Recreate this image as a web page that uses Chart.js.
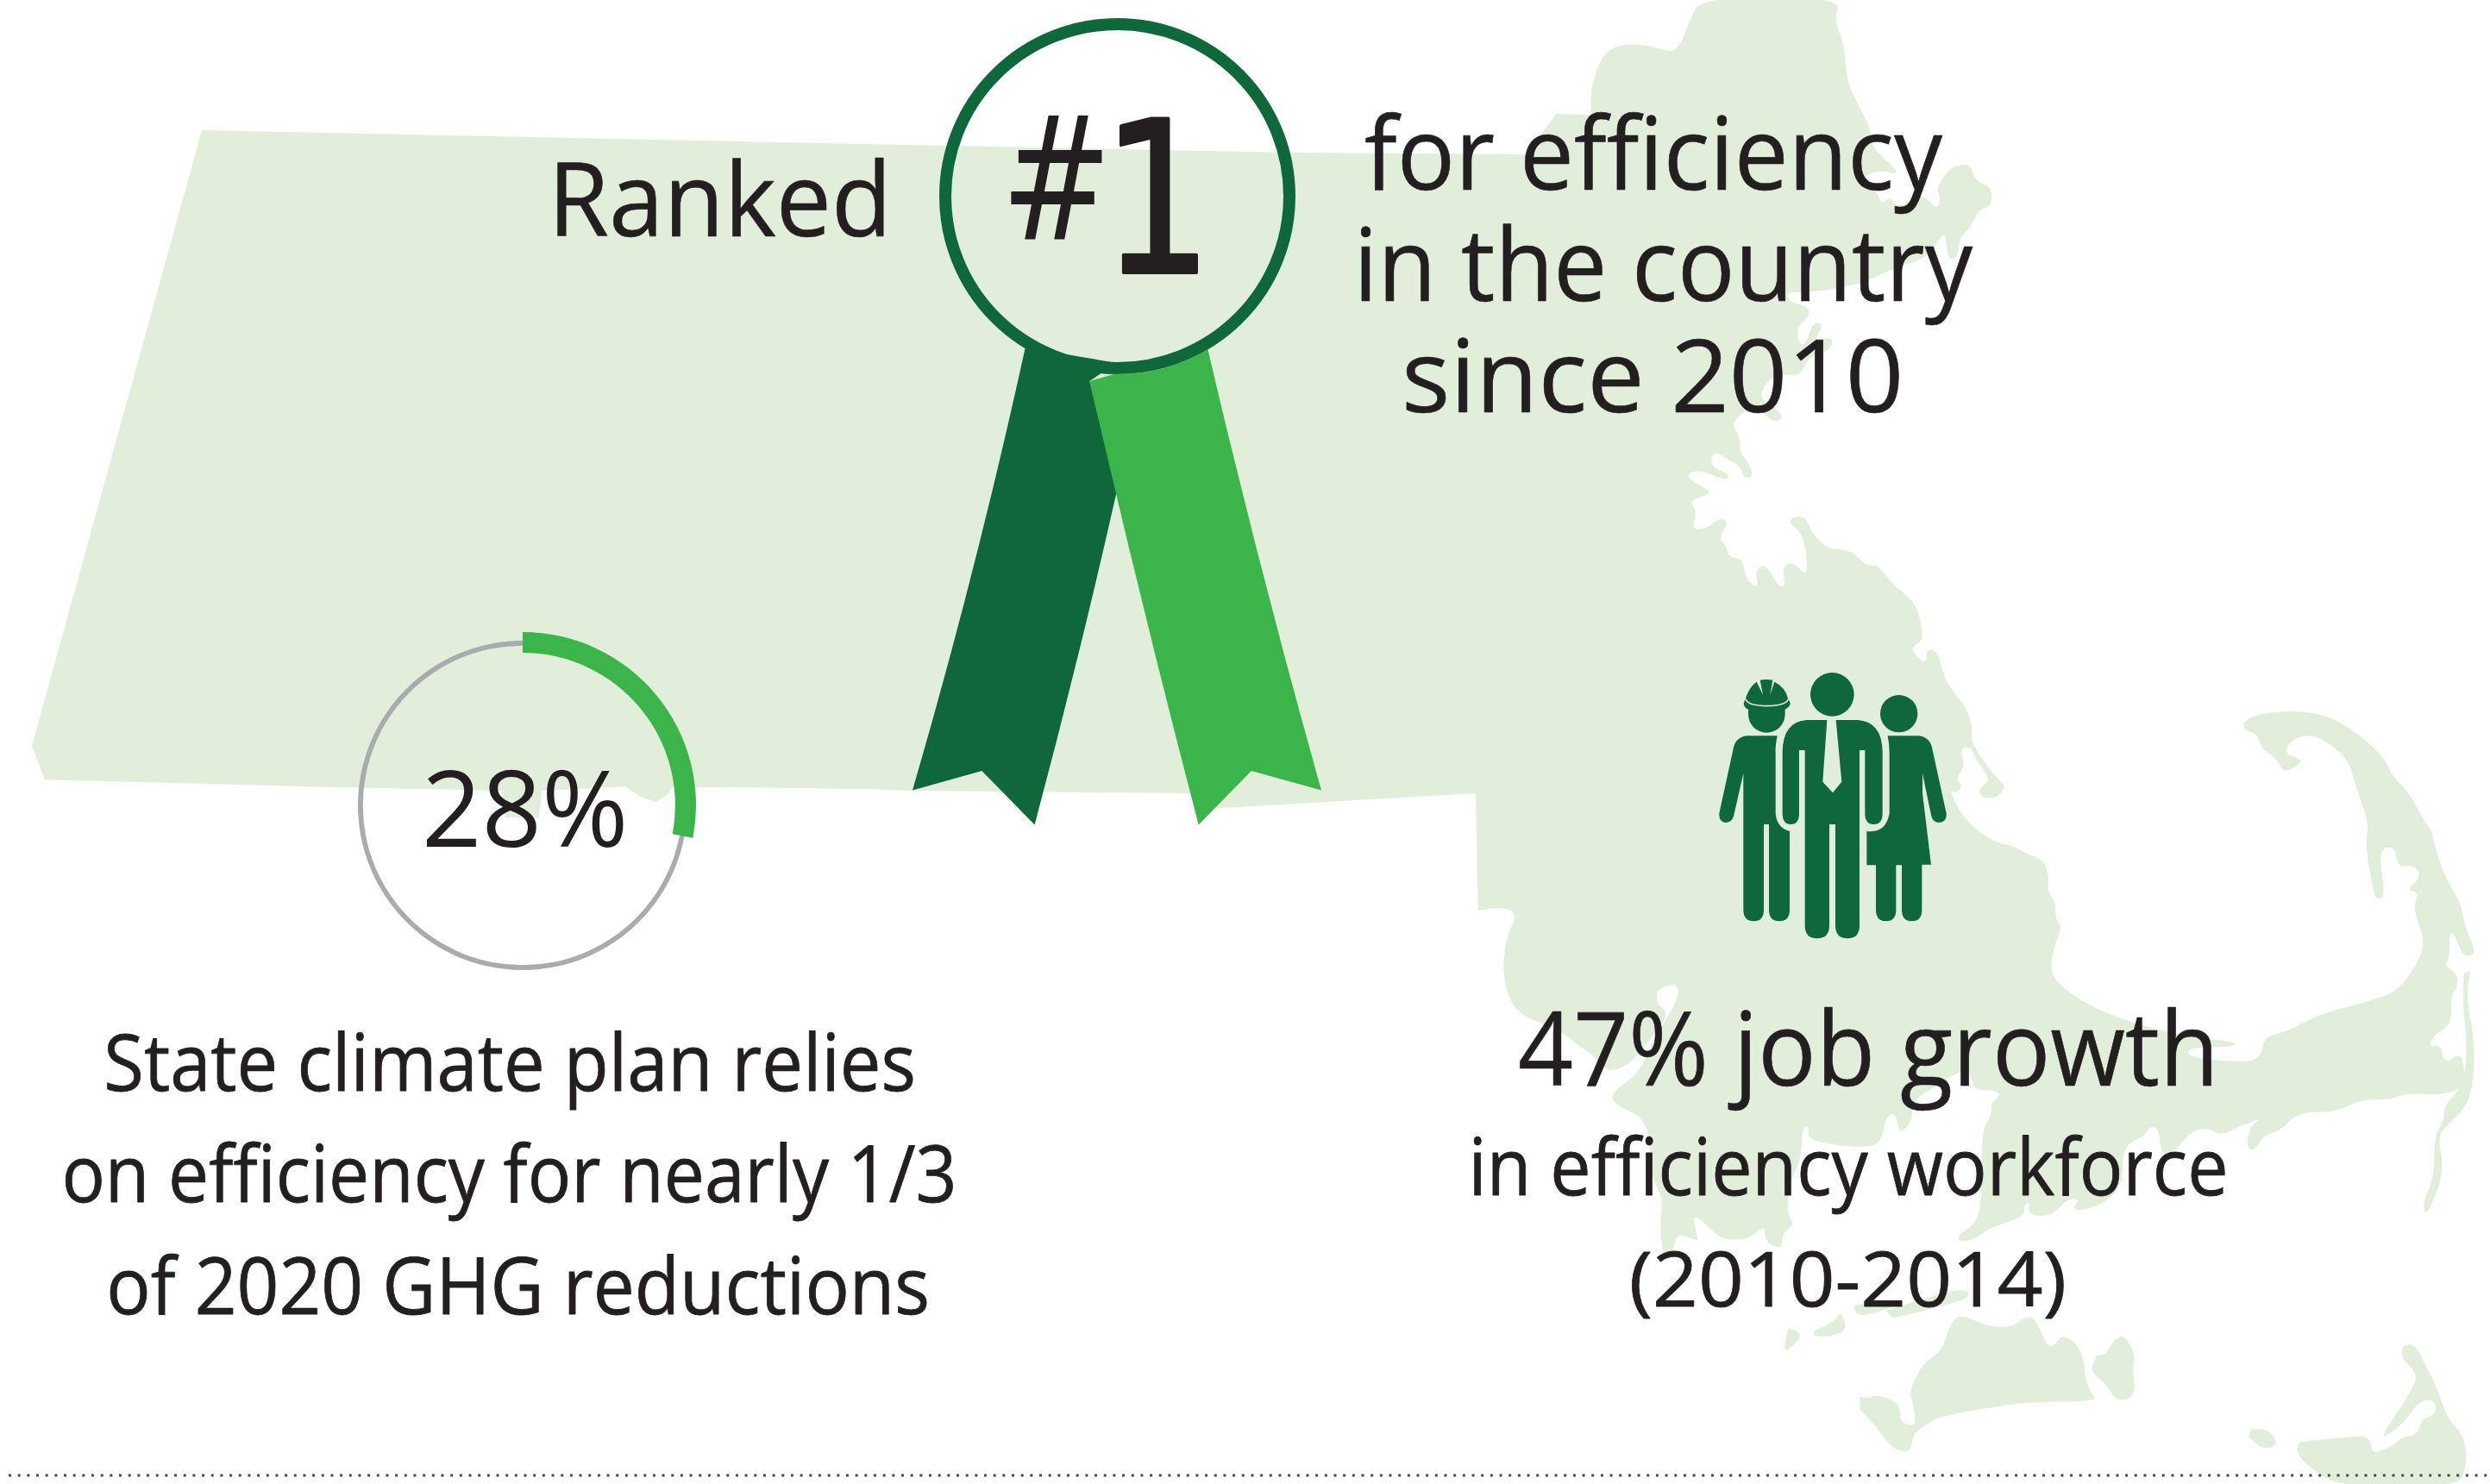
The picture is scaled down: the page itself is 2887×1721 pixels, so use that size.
<!DOCTYPE html>
<html>
<head>
<meta charset="utf-8">
<style>
html,body{margin:0;padding:0;background:#fff;width:2887px;height:1721px;overflow:hidden}
#stage{position:relative;width:2887px;height:1721px;overflow:hidden}
svg,canvas{position:absolute}
</style>
<script src="https://cdn.jsdelivr.net/npm/chart.js@4"></script>
</head>
<body>
<div id="stage">
  <svg id="back" width="2887" height="1721" viewBox="0 0 2887 1721" style="left:0;top:0"></svg>
  <canvas id="track" width="382" height="382" style="left:415px;top:743px;width:382px;height:382px"></canvas>
  <canvas id="share" width="402" height="402" style="left:405px;top:733px;width:402px;height:402px"></canvas>
  <svg id="front" width="2887" height="1721" viewBox="0 0 2887 1721" style="left:0;top:0"></svg>
</div>
<script>
/* ---------- chart data ---------- */
const shareCategories = ["Efficiency", "Other measures"];
const shareValues = [28, 72];
const trackValues = [100];

/* ---------- text ---------- */
const rankedWord = "Ranked";
const rankNumber = "#1";
const rankLines = ["for efficiency", "in the country", "since 2010"];
const shareLabel = "28%";
const planLines = ["State climate plan relies", "on efficiency for nearly 1/3", "of 2020 GHG reductions"];
const jobHeadline = "47% job growth";
const jobLines = ["in efficiency workforce", "(2010-2014)"];

const INK="#231f20", MAP="#e1eed9", DARK="#0e6839", BRIGHT="#3bb54a", GREY="#a9abae";

/* ---------- the doughnut: real Chart.js arcs ---------- */
new Chart(document.getElementById("track"),{type:"doughnut",
  data:{labels:["Total"],datasets:[{data:trackValues,backgroundColor:[GREY],borderWidth:0}]},
  options:{responsive:false,animation:false,cutout:"97%",plugins:{legend:{display:false},tooltip:{enabled:false}}}});
new Chart(document.getElementById("share"),{type:"doughnut",
  data:{labels:shareCategories,datasets:[{data:shareValues,backgroundColor:[BRIGHT,"rgba(0,0,0,0)"],borderWidth:0}]},
  options:{responsive:false,animation:false,cutout:"88%",plugins:{legend:{display:false},tooltip:{enabled:false}}}});

/* ---------- backdrop illustration (map, rosette, people icon) ---------- */
const z1=p=>[1000+p[0]/2.24,p[1]/1.568];
const z4=p=>[1700+p[0]/2.24,p[1]/1.742];
const z5=p=>[1700+p[0]/1.314,800+p[1]/1.702];
const f=n=>n.toFixed(1);
function straight(pts){return pts.map(p=>"L"+f(p[0])+" "+f(p[1])).join("");}
function smooth(pts){
  let d="L"+f(pts[0][0])+" "+f(pts[0][1]);
  for(let i=1;i<pts.length-1;i++){
    const m=[(pts[i][0]+pts[i+1][0])/2,(pts[i][1]+pts[i+1][1])/2];
    d+="Q"+f(pts[i][0])+" "+f(pts[i][1])+" "+f(m[0])+" "+f(m[1]);
  }
  const e=pts[pts.length-1];
  return d+"L"+f(e[0])+" "+f(e[1]);
}
function blob(pts){return "M"+smooth(pts).slice(1)+"Z";}
function P(p){const q=z1(p);return f(q[0])+" "+f(q[1]);}

const coastNorth=[[325,180],[345,115],[400,88],[480,92],[548,110],[580,40],[612,-5],[975,-5],[955,40],[980,85],[985,130],[992,170],[1020,215],[1050,260],[1055,300],[1115,340],[1118,352],[1080,345],[1040,350],[1035,370],[1065,385],[1080,415],[1100,395],[1120,420],[1160,400],[1190,395],[1225,425],[1232,395],[1220,380],[1260,335],[1310,330],[1320,365],[1365,378],[1365,415],[1330,425],[1310,460],[1280,480],[1278,520],[1250,525],[1245,470],[1230,480],[1200,520],[1100,545],[1020,575],[900,590],[830,590],[840,610],[890,620],[890,640],[860,660],[860,690],[880,700],[900,650],[930,655],[900,690],[950,680],[950,700],[925,715],[885,725],[870,760],[800,755],[765,790],[770,810],[815,830],[820,850],[790,850],[760,825],[730,825],[695,850],[695,865],[710,880],[710,915],[735,935],[745,965],[720,965],[710,940],[670,925],[650,912],[635,925],[640,945],[680,955],[680,972],[610,950],[575,955],[580,970],[630,990],[630,1000],[580,1010],[600,1035],[585,1070],[620,1070],[660,1045],[680,1055],[655,1090],[675,1100],[680,1125],[720,1130],[725,1170],[760,1190],[750,1150],[780,1140],[810,1185],[830,1185],[820,1145],[850,1135],[885,1165],[885,1120],[870,1075],[830,1050],[880,1040],[895,1075],[940,1110],[1000,1110],[1040,1145],[1070,1140],[1105,1180],[1165,1215],[1185,1270],[1185,1295],[1150,1310],[1195,1345],[1195,1310],[1225,1315],[1245,1380],[1300,1430],[1315,1470],[1310,1500],[1365,1560]].map(z4);

const coastSouth=[[820,190],[815,212],[785,215],[780,195],[800,178],[775,135],[770,115],[755,112],[755,130],[760,150],[745,175],[757,190],[745,205],[735,195],[760,260],[810,305],[830,305],[855,325],[880,335],[888,370],[885,395],[898,420],[898,455],[908,465],[895,510],[890,550],[900,580],[950,625],[1020,660],[1100,685],[1175,695],[1170,705],[1100,705],[1100,725],[1150,732],[1195,735],[1212,720],[1215,685],[1250,675],[1300,640],[1375,615],[1415,598],[1445,550],[1462,500],[1442,430],[1452,400],[1432,395],[1455,370],[1445,345],[1418,350],[1416,310],[1395,312],[1392,340],[1400,410],[1385,415],[1380,380],[1370,310],[1375,260],[1360,210],[1345,140],[1320,110],[1290,88],[1260,95],[1245,125],[1270,135],[1272,145],[1245,165],[1235,135],[1210,115],[1205,85],[1182,80],[1190,50],[1280,38],[1345,70],[1400,135],[1410,170],[1435,200],[1460,260],[1472,280],[1475,310],[1495,380],[1515,420],[1522,470],[1535,505],[1535,525],[1518,525],[1505,480],[1498,480],[1498,530],[1490,545],[1510,560],[1510,590],[1500,600],[1502,660],[1475,680],[1465,705],[1485,700],[1490,740],[1515,715],[1520,750],[1525,780],[1500,795],[1470,800],[1440,795],[1400,810],[1365,808],[1320,835],[1270,832],[1240,870],[1215,880],[1200,912],[1188,900],[1195,860],[1212,845],[1180,860],[1150,880],[1130,865],[1105,870],[1080,910],[1060,925],[1055,865],[1040,862],[1035,880],[1000,900],[1000,980],[970,1015],[930,1030],[925,1020],[935,1005],[915,1005],[895,1035],[870,1040],[855,1030],[860,1010],[850,1015],[850,1040],[800,1060],[775,1085],[750,1090],[750,1075],[770,1060],[780,1040],[785,1000],[785,870],[800,840],[800,815],[815,800],[805,790],[775,790],[770,770],[765,750],[740,760],[720,780],[680,810],[680,850],[660,878],[655,835],[640,840],[632,895],[600,905],[520,890],[522,860],[512,865],[510,930],[490,980],[490,1040],[500,1055],[480,1075],[482,1105],[455,1090],[455,1055],[430,1085],[400,1085],[385,1080],[345,1030],[350,1070],[355,1090],[320,1070],[315,1115],[300,1120],[295,1060],[300,1000],[280,960],[280,850],[220,815],[225,790],[265,755],[280,700],[320,620],[325,578],[290,590],[290,620],[310,640],[280,690],[250,740],[215,755],[200,730],[170,700],[135,665],[75,640],[55,570],[60,490],[78,445],[60,428],[18,435]].map(z5);

const mapMain="M234 151"+straight([[1000,167],[1500,177],[1771,179],[1804,132],[1845,133]])
  +smooth(coastNorth)+smooth(coastSouth)
  +straight([[1711,920],[1400,938],[1385,939],[1388,920],[1060,917],[1000,915],[850,913],[780,913],[772,923],[760,930],[745,925],[725,912],[628,917],[625,948],[585,948],[582,917],[350,912],[52,904],[37,865]])+"Z";

const islands=[
 [[1530,555],[1522,600],[1535,680],[1535,770],[1525,820],[1495,860],[1480,880],[1490,950],[1470,1020],[1460,1035],[1458,1010],[1475,960],[1475,880],[1490,850],[1490,820],[1520,780],[1525,700],[1518,620],[1520,560]],
 [[600,1395],[612,1400],[628,1390],[662,1410],[660,1440],[672,1452],[686,1450],[680,1405],[675,1385],[695,1330],[725,1305],[735,1260],[750,1230],[790,1255],[830,1260],[860,1230],[875,1265],[885,1295],[895,1295],[910,1270],[940,1305],[945,1380],[967,1405],[860,1405],[780,1420],[720,1435],[695,1455],[680,1470],[678,1505],[650,1500],[625,1455],[600,1420]],
 [[975,1310],[995,1260],[1020,1310],[1015,1340],[1020,1395],[990,1405],[975,1370],[950,1345],[960,1315]],
 [[490,1260],[517,1268],[490,1305],[485,1300]],
 [[530,1265],[560,1250],[570,1225],[582,1265],[550,1278],[530,1275]],
 [[590,1215],[640,1205],[660,1215],[610,1235],[595,1232]],
 [[640,1225],[700,1200],[760,1180],[770,1200],[700,1225],[650,1240]],
 [[1195,1460],[1220,1455],[1238,1490],[1215,1500],[1192,1475]],
 [[1270,1485],[1360,1470],[1378,1480],[1380,1510],[1415,1490],[1425,1475],[1450,1470],[1455,1440],[1478,1430],[1475,1400],[1450,1405],[1430,1445],[1405,1470],[1393,1475],[1440,1385],[1450,1350],[1425,1320],[1425,1295],[1445,1290],[1460,1330],[1480,1380],[1495,1440],[1520,1470],[1525,1530],[1510,1575],[1330,1575],[1275,1525],[1265,1500]]
].map(a=>a.map(z5));

let back='<path d="'+mapMain+'" fill="'+MAP+'"/>';
islands.forEach(a=>{back+='<path d="'+blob(a)+'" fill="'+MAP+'"/>';});

/* ribbon tails + medal ring */
const tailDark="M"+P([423,632])+"Q"+P([295,1040])+" "+P([130,1437])+"L"+P([310,1402])+"L"+P([447,1500])
  +"Q"+P([565,1190])+" "+P([660,895])+"L"+P([590,693])+"L"+P([660,660])+"Z";
const tailBright="M"+P([590,693])+"L"+P([655,680])+"Q"+P([785,682])+" "+P([897,635])
  +"Q"+P([1032,1040])+" "+P([1192,1437])+"L"+P([1010,1402])+"L"+P([873,1500])+"Q"+P([722,1095])+" "+P([590,693])+"Z";
back+='<path d="'+tailDark+'" fill="'+DARK+'"/>';
back+='<circle cx="1295.5" cy="227.5" r="199.5" fill="none" stroke="'+DARK+'" stroke-width="14"/>';
back+='<path d="'+tailBright+'" fill="'+BRIGHT+'"/>';

/* dotted rule */
back+='<line x1="10" y1="1711" x2="2887" y2="1711" stroke="#4a4a4c" stroke-width="3" stroke-dasharray="3 7.67"/>';

/* people icon */
back+='<g transform="translate(1900 740) scale(0.33333)" fill="'+DARK+'">'
 +'<circle cx="673" cy="196" r="76"/>'
 +'<path d="M585 285H655L640 500L675 538L706 500L686 285H760Q848 290 848 400V610Q848 648 817 648Q787 648 787 610V390H768V1000Q768 1045 726 1045Q684 1045 684 1000V648H663V1000Q663 1045 620 1045Q578 1045 578 1000V390H558V610Q558 648 529 648Q500 648 500 610V400Q500 290 585 285Z"/>'
 +'<path d="M380 340H482Q474 380 476 400V610Q480 660 525 672V945Q525 985 489 985Q453 985 453 945V648H435V945Q435 985 400 985Q364 985 364 945V470L330 620Q322 642 303 642Q278 640 280 610L330 380Q340 342 380 340Z"/>'
 +'<path d="M866 340H970Q1010 342 1020 380L1070 610Q1072 640 1045 642Q1025 642 1018 620L987 470V540L1017 788H985V945Q985 985 950 985Q915 985 915 945V790H895V945Q895 985 860 985Q825 985 825 945V790H793V672Q860 680 872 610V400Q872 370 866 340Z"/>'
 +'<circle cx="905" cy="263" r="65"/>'
 +'<path d="M381 240H509V265A64 64 0 0 1 381 265Z"/>'
 +'<path d="M372 210Q385 170 410 152L432 197L422 146Q445 142 466 146L457 199L472 152Q510 170 520 212Q530 225 525 235Q515 250 495 250H395Q370 250 365 230Q366 220 372 210Z"/>'
 +'<path d="M372 212Q378 235 445 236Q515 235 520 212" fill="none" stroke="'+MAP+'" stroke-width="5"/>'
 +'</g>';
document.getElementById("back").innerHTML=back;

/* ---------- text as real text, each line fitted to its measured ink box ---------- */
const ctx=document.createElement("canvas").getContext("2d");
const SANS='"Open Sans"';
function line(txt,x0,x1,base,size,opts){
  opts=opts||{};
  const family=opts.family||SANS, weight=opts.weight||400;
  ctx.font=weight+" "+size+"px "+family;
  const m=ctx.measureText(txt);
  const ink=m.actualBoundingBoxRight+m.actualBoundingBoxLeft;
  const sx=(x1-x0)/ink;
  const x=x0+m.actualBoundingBoxLeft*sx;
  const esc=txt.replace(/&/g,"&amp;").replace(/</g,"&lt;");
  const st=opts.stroke?' stroke="'+INK+'" stroke-width="'+opts.stroke+'" stroke-linejoin="round"':'';
  return '<text transform="translate('+f(x)+' '+f(base)+') scale('+sx.toFixed(4)+' 1)" font-family=\''+family+'\' font-size="'+size+'" font-weight="'+weight+'" fill="'+INK+'"'+st+'>'+esc+'</text>';
}
let t="";
t+=line(rankedWord,646,1025,274,120,{stroke:0.6});
t+=line(rankNumber.charAt(0),1172,1278,277,200,{family:'"DejaVu Sans"'});
t+=line(rankNumber.charAt(1),1299,1388,316,245,{family:'"DejaVu Sans"',stroke:4});
t+=line(rankLines[0],1583,2253,219.5,118,{stroke:0.6});
t+=line(rankLines[1],1578,2288,348.5,118,{stroke:0.6});
t+=line(rankLines[2],1630,2202,477.5,118,{stroke:0.6});
t+=line(shareLabel,495,723,982,123);
t+=line(planLines[0],124,1059,1264.5,91,{stroke:0.8});
t+=line(planLines[1],76,1105,1393.5,91,{stroke:0.8});
t+=line(planLines[2],128,1075,1523.5,91,{stroke:0.8});
t+=line(jobHeadline,1762,2564,1259,120,{stroke:0.6});
t+=line(jobLines[0],1709,2580,1386,91,{stroke:0.8});
t+=line(jobLines[1],1892,2393,1515,88,{stroke:0.8});
document.getElementById("front").innerHTML=t;
</script>
</body>
</html>
